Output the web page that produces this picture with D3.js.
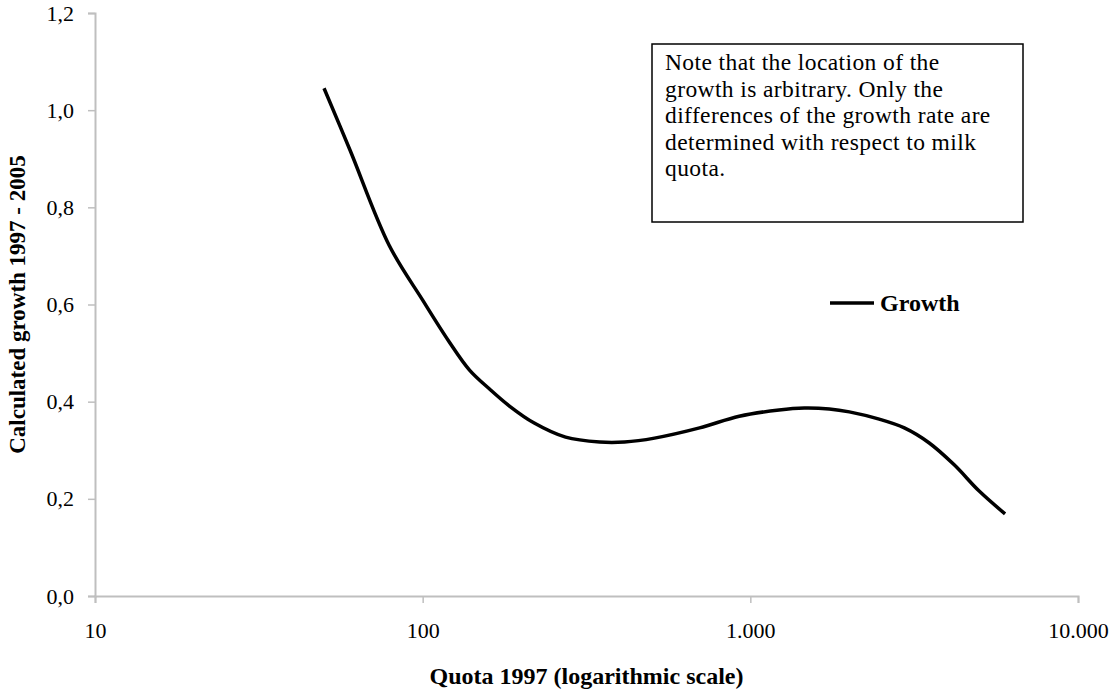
<!DOCTYPE html>
<html>
<head>
<meta charset="utf-8">
<script src="https://cdn.jsdelivr.net/npm/d3@7"></script>
<style>
  body { margin: 0; background: #fff; }
  text { font-family: "Liberation Serif", "Times New Roman", serif; }
</style>
</head>
<body>
<div id="chart"></div>
<script>
// quota 1997 (log scale) and calculated growth
const quota = [50, 60, 79, 100, 120, 139, 160, 184, 219, 273, 347, 413, 510, 700, 925, 1224, 1461, 1742, 2005, 2473, 2951, 3516, 4190, 4993, 5990];
const growth = [1.045, 0.918, 0.722, 0.609, 0.525, 0.465, 0.426, 0.391, 0.356, 0.327, 0.317, 0.317, 0.325, 0.346, 0.370, 0.383, 0.387, 0.385, 0.379, 0.364, 0.346, 0.315, 0.270, 0.216, 0.169];

const xTicks = [10, 100, 1000, 10000];
const xTickLabels = ["10", "100", "1.000", "10.000"];
const yTicks = [0, 0.2, 0.4, 0.6, 0.8, 1.0, 1.2];

const noteLines = [
  "Note that the location of the",
  "growth is arbitrary. Only the",
  "differences of the growth rate are",
  "determined with respect to milk",
  "quota."
];

const width = 1113, height = 691;
const margin = {top: 13, right: 35, bottom: 95, left: 95};

const svg = d3.select("#chart")
  .append("svg")
    .attr("width", width)
    .attr("height", height);

const x = d3.scaleLog()
  .domain([10, 10000])
  .range([margin.left, width - margin.right]);

const y = d3.scaleLinear()
  .domain([0, 1.2])
  .range([height - margin.bottom, margin.top]);

const axisColor = "#bfbfbf";

// Y axis
const yAxis = svg.append("g")
  .attr("transform", `translate(${margin.left},0)`)
  .call(d3.axisLeft(y).tickValues(yTicks).tickSize(7).tickPadding(14)
    .tickFormat(d => d3.format(".1f")(d).replace(".", ",")));
yAxis.select(".domain").attr("stroke", axisColor).attr("stroke-width", 2);
yAxis.selectAll(".tick line").attr("stroke", axisColor).attr("stroke-width", 1.5);
yAxis.selectAll(".tick text").style("font-size", "22px").attr("fill", "#000")
  .attr("font-family", "Liberation Serif");

// X axis
const xAxis = svg.append("g")
  .attr("transform", `translate(0,${height - margin.bottom})`)
  .call(d3.axisBottom(x).tickValues(xTicks).tickSize(7).tickPadding(19)
    .tickFormat((d, i) => xTickLabels[i]));
xAxis.select(".domain").attr("stroke", axisColor).attr("stroke-width", 2);
xAxis.selectAll(".tick line").attr("stroke", axisColor).attr("stroke-width", 1.5);
xAxis.selectAll(".tick text").style("font-size", "22px").attr("fill", "#000")
  .attr("font-family", "Liberation Serif");

// the curve
const data = quota.map((q, i) => ({q: q, g: growth[i]}));
svg.append("path")
  .datum(data)
  .attr("d", d3.line()
    .x(d => x(d.q))
    .y(d => y(d.g))
    .curve(d3.curveCatmullRom))
  .attr("stroke", "#000")
  .style("stroke-width", 3.5)
  .style("fill", "none");

// legend
svg.append("line")
  .attr("x1", 830).attr("x2", 874).attr("y1", 303).attr("y2", 303)
  .attr("stroke", "#000").style("stroke-width", 3.5);
svg.append("text")
  .attr("x", 880).attr("y", 311)
  .text("Growth")
  .style("font-size", "24px").style("font-weight", "bold");

// note box
svg.append("rect")
  .attr("x", 652).attr("y", 44).attr("width", 371).attr("height", 178)
  .attr("fill", "#fff").attr("stroke", "#000").style("stroke-width", 1.5);
svg.append("g").selectAll("text")
  .data(noteLines)
  .join("text")
    .attr("x", 665)
    .attr("y", (d, i) => 70 + i * 26.6)
    .text(d => d)
    .style("font-size", "23.5px")
    .style("letter-spacing", "0.4px");

// X axis label
svg.append("text")
  .attr("text-anchor", "middle")
  .attr("x", (margin.left + width - margin.right) / 2)
  .attr("y", 684)
  .text("Quota 1997 (logarithmic scale)")
  .style("font-size", "24px").style("font-weight", "bold");

// Y axis label
svg.append("text")
  .attr("text-anchor", "middle")
  .attr("transform", `translate(25,${(margin.top + height - margin.bottom) / 2}) rotate(-90)`)
  .text("Calculated growth 1997 - 2005")
  .style("font-size", "23px").style("font-weight", "bold");
</script>
</body>
</html>
